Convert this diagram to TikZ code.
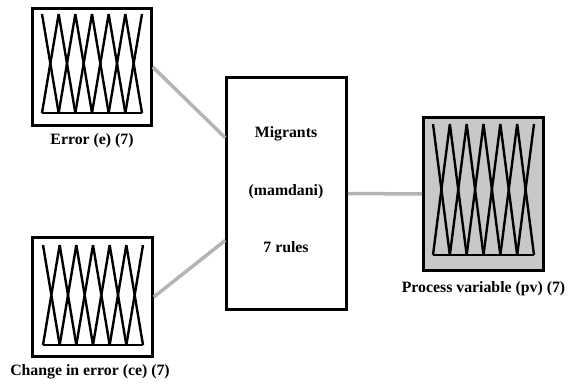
\documentclass[tikz,border=0pt]{standalone}
\usepackage{fontspec}
\setmainfont{Liberation Serif}
\usetikzlibrary{calc}
\definecolor{linkgray}{RGB}{180,180,180}
\definecolor{pvfill}{RGB}{200,200,200}
\newcommand\mfgrid[4]{% x0, y0 (top), width, height
  \begin{scope}[shift={(#1,#2)}, mfline]
    \pgfmathsetmacro\dx{#3/6}
    \pgfmathsetmacro\hh{#4}
    \draw (0,0) -- (\dx,\hh);
    \foreach \i in {1,...,5}{
      \draw ({(\i-1)*\dx},\hh) -- ({\i*\dx},0) -- ({(\i+1)*\dx},\hh);
    }
    \draw ({5*\dx},\hh) -- ({6*\dx},0);
    \draw (0,\hh) -- ({6*\dx},\hh);
  \end{scope}}
\begin{document}
\begin{tikzpicture}[x=1pt,y=-1pt,
  box/.style={draw=black, line width=2.6pt, minimum width=#1, inner sep=0pt},
  mfline/.style={line width=2.4pt, line join=miter, miter limit=3, black},
  link/.style={draw=linkgray, line width=3.5pt},
  lbl/.style={font=\fontsize{15.8}{18}\selectfont\bfseries, inner sep=0pt},
]
\useasboundingbox (0,0) rectangle (569,386);
% boxes
\node[box=119pt, minimum height=117pt] (err) at (92,67) {};
\node[box=120pt, minimum height=119pt] (chg) at (92.5,297) {};
\node[box=120pt, minimum height=153pt, fill=pvfill] (pv) at (483.5,194) {};
\node[box=120pt, minimum height=232pt] (mid) at (286.5,193.5) {};
% membership functions
\mfgrid{42}{14}{100}{99}
\mfgrid{43}{245}{100}{100}
\mfgrid{433}{124}{101}{131}
% labels
\node[lbl] (errl) at (92,141) {Error (e) (7)};
\node[lbl] (chgl) at (90,372) {Change in error (ce) (7)};
\node[lbl] (pvl) at (483.5,289) {Process variable (pv) (7)};
\node[lbl] (m1) at (286,134) {Migrants};
\node[lbl] (m2) at (286,192) {(mamdani)};
\node[lbl] (m3) at (286,247) {7 rules};
% connectors
\coordinate (midin1) at ($(mid.north west)!0.262!(mid.south west)$);
\coordinate (midin2) at ($(mid.north west)!0.700!(mid.south west)$);
\draw[link] (err.east) -- (midin1);
\draw[link] (chg.east) -- (midin2);
\draw[link] (mid.east) -- (pv.west);
\end{tikzpicture}
\end{document}
